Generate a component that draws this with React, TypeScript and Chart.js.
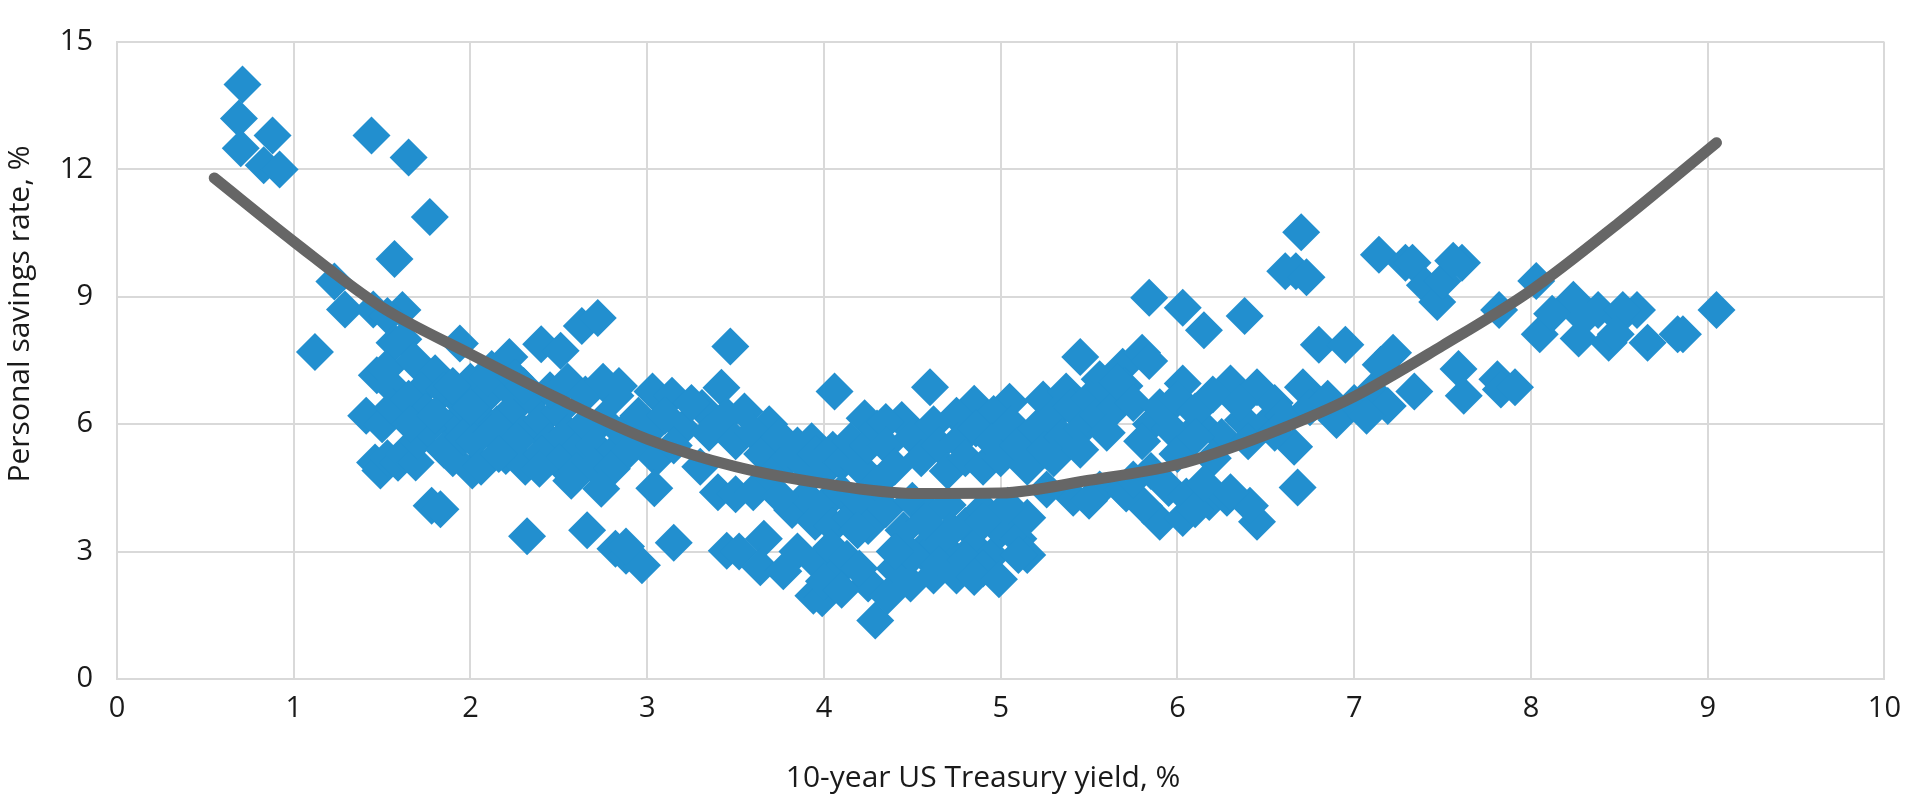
import React, { useEffect, useRef } from 'react';
import { Chart, registerables } from 'chart.js';

Chart.register(...registerables);

// ---- Data ----
// [10-year US Treasury yield %, personal savings rate %]
const lowYieldPoints: [number, number][] = [
  [0.71, 14.0], [0.69, 13.2], [0.70, 12.5], [0.88, 12.8], [0.83, 12.1], [0.92, 12.0],
  [1.44, 12.8], [1.65, 12.28], [1.77, 10.88], [1.57, 9.89],
  [1.23, 9.36], [1.29, 8.7], [1.12, 7.7], [1.45, 8.7], [1.615, 8.69], [1.53, 8.55],
  [1.57, 7.92], [1.62, 8.0], [1.47, 7.15], [1.52, 7.3], [1.55, 6.9], [1.41, 6.2], [1.5, 6.0], [1.56, 6.4],
  [1.46, 5.1], [1.49, 4.91], [1.53, 5.2], [1.59, 5.09], [1.62, 5.3], [1.69, 5.1], [1.78, 4.08], [1.83, 4.0], [2.01, 4.91],
];

const leftMassPoints: [number, number][] = [
  [1.94, 7.9], [2.22, 7.58], [2.4, 7.88], [2.51, 7.73], [2.63, 8.31], [2.72, 8.5], [2.12, 7.3], [2.82, 6.67], [1.68, 7.5], [1.8, 7.2], [1.72, 6.8],
  [1.65, 6.6], [1.75, 6.3], [1.85, 6.8], [1.9, 6.0], [1.95, 6.5], [2.0, 7.0], [2.05, 6.2], [2.1, 6.7], [2.15, 6.0], [2.2, 6.9], [2.25, 6.4],
  [2.3, 5.8], [2.35, 6.6], [2.4, 6.1], [2.45, 5.6], [2.5, 6.3], [2.55, 5.8], [2.6, 5.4], [2.65, 6.0], [2.7, 5.5], [2.75, 6.1], [2.8, 5.3], [2.86, 5.8],
  [1.7, 5.6], [1.76, 5.9], [1.85, 5.4], [1.9, 5.2], [1.96, 5.7], [2.02, 5.6], [2.06, 5.0], [2.12, 5.8], [2.2, 5.25], [2.26, 5.6], [2.31, 5.0],
  [2.4, 5.3], [2.5, 5.1], [2.6, 4.9], [2.7, 5.0], [2.8, 4.95],
  [1.66, 6.0], [1.8, 6.2], [1.9, 6.9], [2.0, 6.4], [2.1, 7.1], [2.25, 7.1], [2.3, 6.9], [2.45, 6.8], [2.55, 7.0], [2.65, 6.7], [2.75, 7.0],
  [2.16, 5.3], [2.39, 4.95], [2.57, 4.67], [2.74, 4.48],
  [2.32, 3.36], [2.66, 3.5], [2.82, 3.07], [2.88, 2.9], [2.97, 2.68],
];

const midYieldPoints: [number, number][] = [
  [2.84, 6.9], [3.03, 6.77], [3.14, 6.67], [3.31, 6.38], [3.42, 6.86], [3.47, 7.83], [3.69, 6.0], [3.93, 5.6], [4.06, 6.77], [4.23, 6.14],
  [2.95, 6.2], [3.0, 5.8], [3.1, 6.2], [3.2, 5.9], [3.25, 6.5], [3.35, 5.8], [3.45, 6.2], [3.5, 5.6], [3.55, 6.3], [3.6, 5.8], [3.65, 5.3],
  [3.75, 5.7], [3.8, 5.2], [3.85, 5.5], [3.9, 5.0], [3.95, 5.3], [4.0, 4.9], [4.05, 5.4], [4.1, 5.1], [4.15, 5.6], [4.2, 5.0], [4.25, 5.5],
  [4.3, 5.9], [2.9, 5.4], [3.05, 5.2], [3.15, 5.5],
  [3.04, 4.49], [3.4, 4.4], [3.5, 4.35], [3.15, 3.21], [3.3, 5.0], [3.6, 4.4], [3.7, 4.8], [3.82, 3.98], [3.9, 4.3], [3.95, 3.7], [4.0, 4.1],
  [4.05, 3.6], [4.1, 4.4], [4.15, 3.8], [4.2, 4.2], [4.25, 3.6], [4.3, 4.6], [3.75, 4.3],
  [2.88, 3.12], [3.45, 3.02], [3.52, 3.0], [3.66, 3.3], [3.64, 2.63], [3.77, 2.54], [3.94, 1.96], [3.99, 1.9], [3.96, 2.73], [4.04, 3.1],
  [4.08, 2.54], [4.13, 2.83], [4.19, 3.5], [4.25, 2.25], [4.29, 1.38], [3.85, 3.0], [4.0, 2.3], [4.1, 2.1], [4.2, 2.6],
];

const centerYieldPoints: [number, number][] = [
  [4.6, 6.87], [4.85, 6.48], [5.05, 6.53], [5.45, 7.58], [4.44, 6.1], [4.35, 6.05], [4.75, 6.2], [4.96, 6.24], [5.24, 6.58], [5.37, 6.77], [5.56, 7.06], [5.69, 7.35],
  [4.35, 5.5], [4.4, 5.0], [4.5, 5.7], [4.55, 5.2], [4.62, 6.0], [4.65, 5.5], [4.7, 4.9], [4.76, 5.6], [4.8, 5.2], [4.86, 5.9], [4.9, 5.0],
  [4.95, 5.6], [5.0, 5.2], [5.06, 6.0], [5.1, 5.5], [5.15, 5.0], [5.2, 5.9], [5.25, 5.4], [5.3, 6.2], [5.35, 5.7], [5.4, 6.4], [5.46, 5.9],
  [5.5, 6.6], [5.55, 6.2], [5.6, 6.8], [5.65, 6.4], [5.7, 6.9], [5.3, 5.2], [5.45, 5.4], [5.6, 5.8],
  [4.35, 4.0], [4.45, 3.5], [4.5, 4.2], [4.55, 3.0], [4.6, 3.9], [4.65, 3.2], [4.7, 4.1], [4.75, 2.8], [4.8, 3.6], [4.85, 3.1], [4.9, 4.0],
  [4.95, 2.9], [5.0, 3.5], [5.05, 3.9], [5.1, 3.3], [5.15, 3.8], [4.4, 2.6], [4.5, 2.9], [4.65, 2.7], [4.8, 2.8], [4.9, 2.6],
  [4.36, 1.96], [4.49, 2.25], [4.62, 2.44], [4.75, 2.44], [4.85, 2.4], [4.99, 2.35], [5.15, 2.92], [5.1, 2.92], [4.72, 3.5], [4.4, 3.0],
  [4.57, 3.7], [4.9, 3.7], [5.04, 4.08],
  [5.41, 4.27], [5.56, 4.46], [5.69, 4.46], [5.26, 4.46], [5.5, 4.2],
];

const highYieldPoints: [number, number][] = [
  [5.84, 8.98], [6.03, 8.74], [6.15, 8.21], [6.38, 8.55], [5.8, 7.68], [5.84, 7.49],
  [6.7, 10.52], [6.67, 9.6], [6.61, 9.6], [6.73, 9.46],
  [6.8, 7.87], [6.95, 7.87],
  [6.03, 6.96], [6.3, 6.96], [6.45, 6.87], [6.71, 6.87], [5.66, 7.0],
  [6.68, 4.51], [6.66, 5.47],
  [5.9, 3.7], [6.03, 3.79], [6.18, 4.17], [6.28, 4.27], [6.45, 3.7], [6.41, 4.08], [5.81, 4.08], [5.71, 4.37],
  [5.85, 6.0], [5.96, 5.9], [6.13, 6.0], [6.37, 6.1], [6.5, 6.0], [6.9, 6.1], [7.08, 6.3],
  [5.75, 6.5], [5.9, 6.4], [6.0, 6.6], [6.1, 6.3], [6.2, 6.7], [6.25, 5.7], [6.35, 6.5], [6.55, 6.5], [6.6, 6.2], [6.75, 6.4], [6.85, 6.6],
  [7.0, 6.5], [5.8, 5.6], [6.0, 5.3], [6.1, 5.7], [6.2, 5.2], [6.4, 5.6], [6.55, 5.8], [5.95, 4.5], [6.05, 4.3], [6.1, 4.0], [6.3, 4.4],
  [5.75, 4.7], [5.85, 4.9], [6.15, 4.6],
];

const veryHighYieldPoints: [number, number][] = [
  [7.14, 9.99], [7.29, 9.8], [7.33, 9.8], [7.4, 9.27], [7.47, 8.88], [7.5, 9.37], [7.61, 9.8], [7.56, 9.85],
  [7.82, 8.69], [8.03, 9.37], [8.05, 8.12], [8.24, 8.93], [8.27, 8.02], [8.44, 7.92], [8.38, 8.69], [8.5, 8.5], [8.12, 8.6], [8.3, 8.5],
  [7.22, 7.68], [7.34, 6.77], [7.59, 7.3], [7.62, 6.67], [7.81, 7.06], [7.83, 6.82], [7.91, 6.87], [7.1, 6.77], [7.19, 6.43], [7.07, 6.2], [7.15, 7.4],
  [8.6, 8.69], [8.52, 8.69], [8.66, 7.92], [8.83, 8.12], [8.86, 8.12], [9.05, 8.69], [8.48, 8.12],
];

// Trend line (polynomial fit) values
const trendYield = [0.55, 1.0, 1.5, 2.0, 2.5, 3.0, 3.5, 4.0, 4.5, 5.0, 5.5, 6.0, 6.5, 7.0, 7.5, 8.0, 8.5, 9.05];
const trendSavings = [11.8, 10.3, 8.75, 7.65, 6.6, 5.65, 5.0, 4.6, 4.37, 4.38, 4.68, 5.05, 5.75, 6.65, 7.85, 9.15, 10.75, 12.63];

const xTickValues = [0, 1, 2, 3, 4, 5, 6, 7, 8, 9, 10];
const yTickValues = [0, 3, 6, 9, 12, 15];

const xAxisTitle = '10-year US Treasury yield, %';
const yAxisTitle = 'Personal savings rate, %';

const FONT = '"Open Sans", Roboto, "Liberation Sans", sans-serif';
const TICK_SIZE = 29;
const TITLE_SIZE = 30;
const TEXT_COLOR = '#1a1a1a';
const GRID_COLOR = '#d9d9d9';

const axisTitlePlugin = {
  id: 'axisTitlesCustom',
  afterDraw(chart: any) {
    const { ctx, chartArea } = chart;
    ctx.save();
    ctx.fillStyle = TEXT_COLOR;
    ctx.font = `${TITLE_SIZE}px ${FONT}`;
    ctx.textAlign = 'center';
    ctx.textBaseline = 'middle';
    ctx.fillText(xAxisTitle, chartArea.left + (chartArea.right - chartArea.left) * 0.49, chartArea.bottom + 99);
    ctx.translate(chartArea.left - 97, chartArea.top + 272);
    ctx.rotate(-Math.PI / 2);
    ctx.fillText(yAxisTitle, 0, 0);
    ctx.restore();
  },
};

export default function App() {
  const canvasRef = useRef<HTMLCanvasElement>(null);

  useEffect(() => {
    document.body.style.margin = '0';
    const allPoints = [
      ...lowYieldPoints,
      ...leftMassPoints,
      ...midYieldPoints,
      ...centerYieldPoints,
      ...highYieldPoints,
      ...veryHighYieldPoints,
    ].map(([x, y]) => ({ x, y }));
    const trend = trendYield.map((x, i) => ({ x, y: trendSavings[i] }));

    const chart = new Chart(canvasRef.current!, {
      type: 'scatter',
      data: {
        datasets: [
          {
            type: 'line',
            label: 'Trend',
            data: trend,
            showLine: true,
            borderColor: '#666666',
            borderWidth: 11,
            borderCapStyle: 'round',
            borderJoinStyle: 'round',
            cubicInterpolationMode: 'monotone',
            pointRadius: 0,
            fill: false,
            order: 0,
          } as any,
          {
            label: 'Savings vs yield',
            data: allPoints,
            pointStyle: 'rectRot',
            pointRadius: 19,
            pointHoverRadius: 19,
            backgroundColor: '#228fcf',
            borderColor: '#228fcf',
            borderWidth: 0,
            order: 1,
          } as any,
        ],
      },
      options: {
        animation: false,
        responsive: false,
        devicePixelRatio: 1,
        layout: { padding: { left: 0, top: 42, right: 23, bottom: 0 } },
        plugins: {
          legend: { display: false },
          tooltip: { enabled: false },
          title: { display: false },
        },
        scales: {
          x: {
            type: 'linear',
            min: 0,
            max: 10,
            afterBuildTicks: (scale: any) => {
              scale.ticks = xTickValues.map((v) => ({ value: v }));
            },
            afterFit: (scale: any) => {
              scale.height = 128;
            },
            grid: { color: GRID_COLOR, lineWidth: 2, drawTicks: false },
            border: { color: GRID_COLOR, width: 2 },
            ticks: {
              padding: 12,
              color: TEXT_COLOR,
              font: { family: FONT, size: TICK_SIZE },
              maxRotation: 0,
              autoSkip: false,
            },
          },
          y: {
            type: 'linear',
            min: 0,
            max: 15,
            afterBuildTicks: (scale: any) => {
              scale.ticks = yTickValues.map((v) => ({ value: v }));
            },
            afterFit: (scale: any) => {
              scale.width = 117;
            },
            grid: { color: GRID_COLOR, lineWidth: 2, drawTicks: false },
            border: { color: GRID_COLOR, width: 2 },
            ticks: {
              padding: 24,
              color: TEXT_COLOR,
              font: { family: FONT, size: TICK_SIZE },
              autoSkip: false,
            },
          },
        },
      },
      plugins: [axisTitlePlugin],
    });
    return () => chart.destroy();
  }, []);

  return (
    <div style={{ position: 'absolute', left: 0, top: 0, width: 1913, height: 807, background: '#fff' }}>
      <canvas ref={canvasRef} width={1913} height={807} style={{ width: 1913, height: 807, display: 'block' }} />
    </div>
  );
}
